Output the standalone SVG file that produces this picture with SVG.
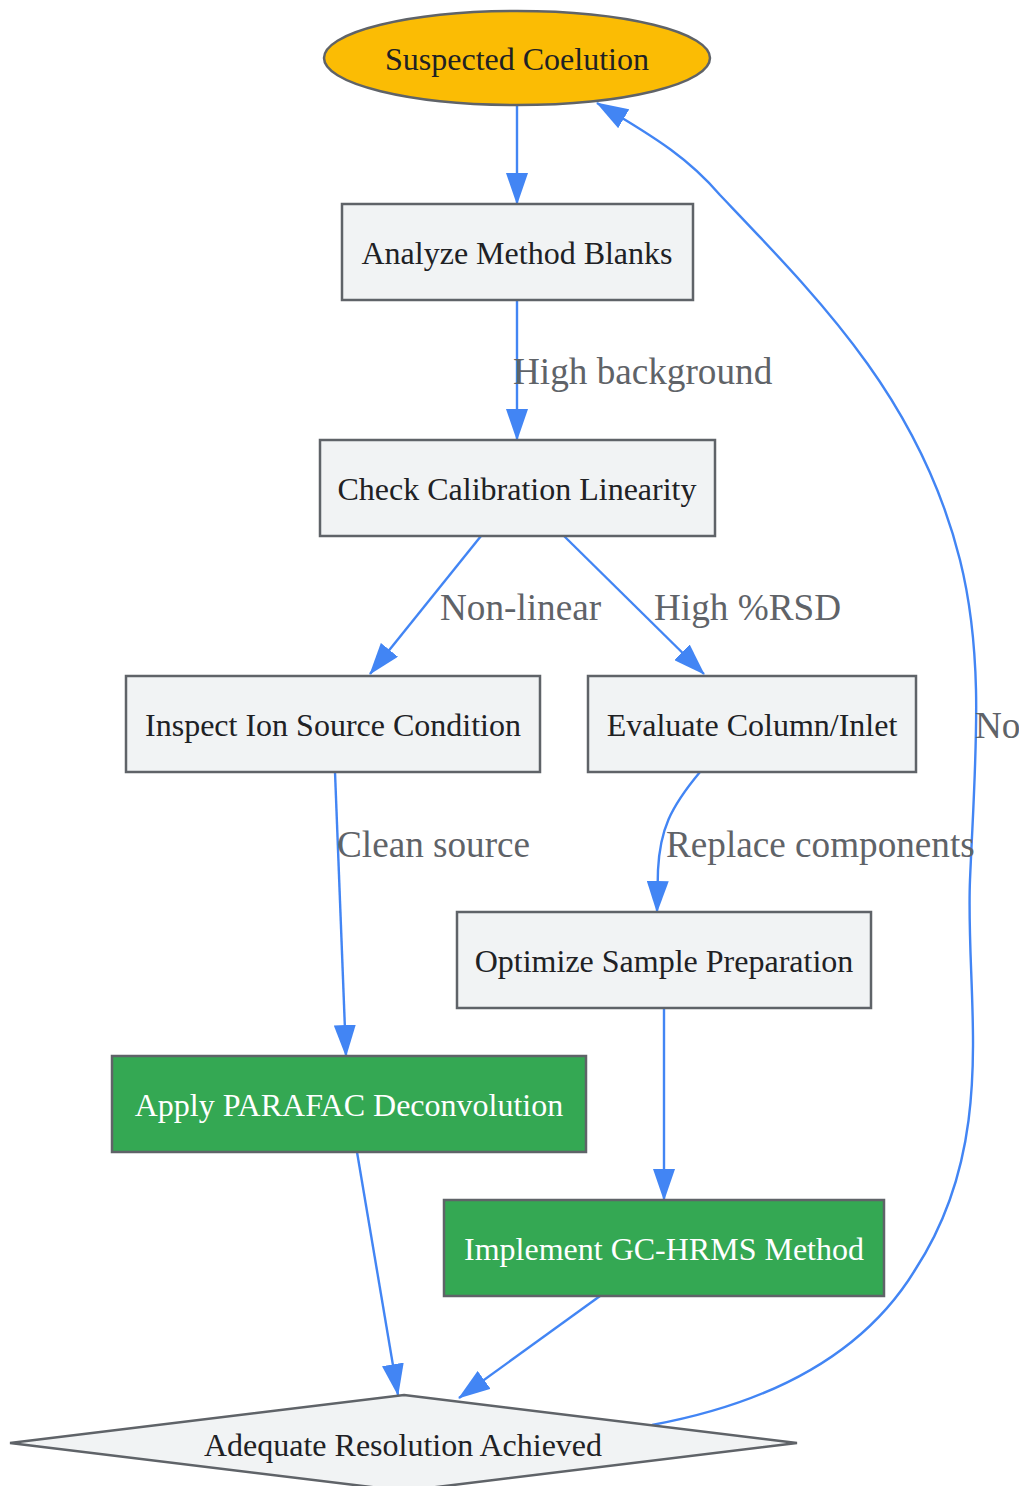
<svg xmlns="http://www.w3.org/2000/svg" width="1019" height="1486" viewBox="0 0 1019 1486">
<defs>
<style>
.box{fill:#f1f3f4;stroke:#5f6368;stroke-width:2.5}
.green{fill:#34a853;stroke:#5f6368;stroke-width:2.5}
.nt{font-family:"Liberation Serif","Times New Roman",serif;font-size:32px;fill:#202124;text-anchor:middle}
.wt{fill:#ffffff}
.edge{fill:none;stroke:#4285f4;stroke-width:2.4}
.el{font-family:"Liberation Serif","Times New Roman",serif;font-size:37.2px;fill:#5f6368}
</style>
<marker id="arr" viewBox="0 0 32 22" refX="31" refY="11" markerWidth="32" markerHeight="22" markerUnits="userSpaceOnUse" orient="auto">
<path d="M0,0 L32,11 L0,22 z" fill="#4285f4"/>
</marker>
</defs>
<rect width="1019" height="1486" fill="#ffffff"/>
<g id="connectors">
<path class="edge" d="M517,105 L517,204" marker-end="url(#arr)"/>
<path class="edge" d="M517,300 L517,440" marker-end="url(#arr)"/>
<path class="edge" d="M481,536 L370,674" marker-end="url(#arr)"/>
<path class="edge" d="M564,536 L704,674" marker-end="url(#arr)"/>
<path class="edge" d="M700,772 C670,808 660,830 658,870 L657,912" marker-end="url(#arr)"/>
<path class="edge" d="M335,772 L346,1056" marker-end="url(#arr)"/>
<path class="edge" d="M664,1008 L664,1200" marker-end="url(#arr)"/>
<path class="edge" d="M357,1152 L398,1395" marker-end="url(#arr)"/>
<path class="edge" d="M600,1296 L459,1398" marker-end="url(#arr)"/>
<path class="edge" d="M652,1425 C760,1405 860,1360 915,1270 C1000,1140 965,1000 970,880 C975,760 985,660 960,560 C920,400 820,300 720,195 C690,160 660,140 597,103" marker-end="url(#arr)"/>
<text class="el" x="513" y="384">High background</text>
<text class="el" x="440" y="620">Non-linear</text>
<text class="el" x="654" y="620">High %RSD</text>
<text class="el" x="666" y="857">Replace components</text>
<text class="el" x="337" y="857">Clean source</text>
<text class="el" x="975" y="738">No</text>
</g>
<g id="n_start">
<ellipse cx="517" cy="58" rx="193" ry="47" fill="#fbbc04" stroke="#5f6368" stroke-width="2.5"/>
<text class="nt" x="517" y="70">Suspected Coelution</text>
</g>
<g id="n_blanks">
<rect class="box" x="342" y="204" width="351" height="96"/>
<text class="nt" x="517" y="264">Analyze Method Blanks</text>
</g>
<g id="n_calib">
<rect class="box" x="320" y="440" width="395" height="96"/>
<text class="nt" x="517" y="500">Check Calibration Linearity</text>
</g>
<g id="n_ion">
<rect class="box" x="126" y="676" width="414" height="96"/>
<text class="nt" x="333" y="736">Inspect Ion Source Condition</text>
</g>
<g id="n_column">
<rect class="box" x="588" y="676" width="328" height="96"/>
<text class="nt" x="752" y="736">Evaluate Column/Inlet</text>
</g>
<g id="n_prep">
<rect class="box" x="457" y="912" width="414" height="96"/>
<text class="nt" x="664" y="972">Optimize Sample Preparation</text>
</g>
<g id="n_parafac">
<rect class="green" x="112" y="1056" width="474" height="96"/>
<text class="nt wt" x="349" y="1116">Apply PARAFAC Deconvolution</text>
</g>
<g id="n_hrms">
<rect class="green" x="444" y="1200" width="440" height="96"/>
<text class="nt wt" x="664" y="1260">Implement GC-HRMS Method</text>
</g>
<g id="n_decision">
<polygon class="box" points="404,1395 797,1443 404,1491 10,1443"/>
<text class="nt" x="403" y="1456">Adequate Resolution Achieved</text>
</g>
</svg>
